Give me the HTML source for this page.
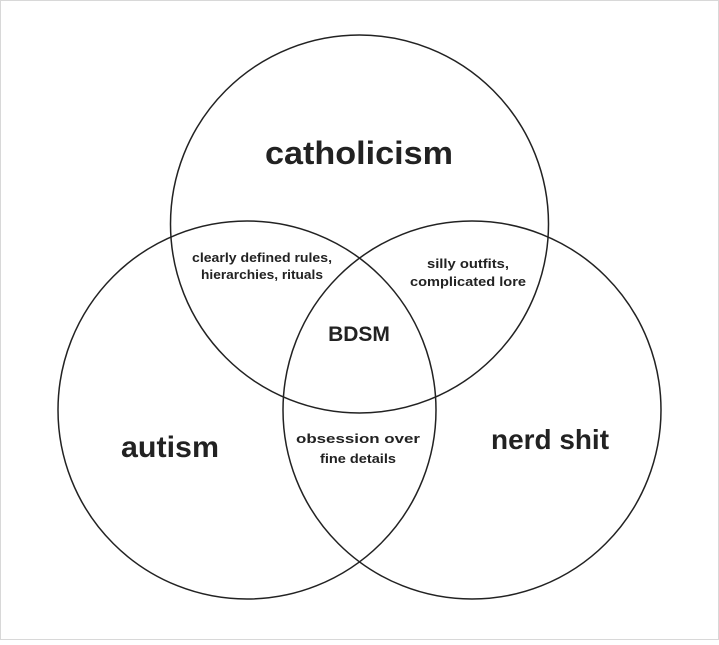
<!DOCTYPE html>
<html><head><meta charset="utf-8"><style>
html,body{margin:0;padding:0;background:#fff;}
body{width:719px;height:640px;overflow:hidden;}
</style></head><body>
<svg width="719" height="640" viewBox="0 0 719 640" xmlns="http://www.w3.org/2000/svg">
<rect x="0.5" y="0.5" width="718" height="639" fill="#fff" stroke="#d8d8d8"/>
<g fill="none" stroke="#222" stroke-width="1.5">
<circle cx="359.5" cy="224" r="189"/>
<circle cx="247" cy="410" r="189"/>
<circle cx="472" cy="410" r="189"/>
</g>
<g font-family="Liberation Sans, sans-serif" fill="#222" text-anchor="middle" font-weight="bold">
<text x="359" y="164" font-size="32" textLength="188" lengthAdjust="spacingAndGlyphs">catholicism</text>
<text x="170" y="457" font-size="30" textLength="98" lengthAdjust="spacingAndGlyphs">autism</text>
<text x="550" y="449" font-size="28" textLength="118" lengthAdjust="spacingAndGlyphs">nerd shit</text>
<text x="359" y="341" font-size="21">BDSM</text>
<g font-size="13">
<text x="262" y="262" textLength="140" lengthAdjust="spacingAndGlyphs">clearly defined rules,</text>
<text x="262" y="279" textLength="122" lengthAdjust="spacingAndGlyphs">hierarchies, rituals</text>
<text x="468" y="268" textLength="82" lengthAdjust="spacingAndGlyphs">silly outfits,</text>
<text x="468" y="286" textLength="116" lengthAdjust="spacingAndGlyphs">complicated lore</text>
<text x="358" y="443" textLength="124" lengthAdjust="spacingAndGlyphs">obsession over</text>
<text x="358" y="463" textLength="76" lengthAdjust="spacingAndGlyphs">fine details</text>
</g>
</g>
</svg>
</body></html>
